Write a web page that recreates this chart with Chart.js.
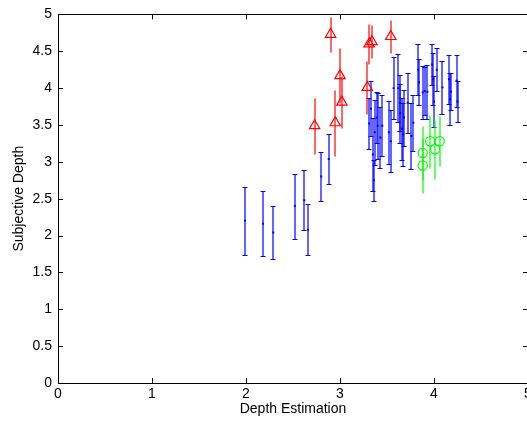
<!DOCTYPE html>
<html lang="en">
<head>
  <meta charset="UTF-8" />
  <title>Subjective Depth vs Depth Estimation</title>
  <script src="https://cdn.jsdelivr.net/npm/chart.js@4"></script>
  <style>
    html, body { margin: 0; padding: 0; background: #fff; overflow: hidden; }
    #wrap { width: 545px; height: 421px; }
  </style>
</head>
<body>
  <div id="wrap"><canvas id="depth-chart" width="545" height="421"></canvas></div>
  <script>
    // tick values
    const xTicks = [0, 1, 2, 3, 4, 5];
    const yTicks = [0, 0.5, 1, 1.5, 2, 2.5, 3, 3.5, 4, 4.5, 5];

    // blue dots with capped error bars
    const blueX = [1.99, 2.18, 2.29, 2.52, 2.62, 2.66, 2.80, 2.88,
      3.31, 3.33, 3.35, 3.36, 3.37, 3.39, 3.40, 3.43, 3.45, 3.52,
      3.54, 3.57, 3.62, 3.64, 3.64, 3.66, 3.67, 3.68, 3.72, 3.76,
      3.78, 3.83, 3.84, 3.88, 3.90, 3.93, 3.98, 3.99, 4.00, 4.03,
      4.09, 4.16, 4.17, 4.18, 4.24, 4.25];
    const blueY = [2.20, 2.16, 2.04, 2.40, 2.48, 2.08, 2.80, 3.04,
      3.52, 3.72, 3.10, 2.75, 3.40, 3.60, 3.49, 3.33, 3.49, 3.40,
      3.28, 4.00, 4.00, 3.80, 3.66, 3.45, 3.37, 3.60, 3.80, 3.35,
      3.53, 4.25, 4.08, 3.94, 3.96, 3.95, 4.32, 4.12, 3.82, 4.25,
      4.01, 4.12, 3.85, 3.95, 4.10, 3.82];
    const blueErr = [0.46, 0.44, 0.36, 0.44, 0.41, 0.35, 0.33, 0.34,
      0.35, 0.37, 0.50, 0.28, 0.44, 0.35, 0.45, 0.41, 0.41, 0.43,
      0.42, 0.42, 0.46, 0.38, 0.40, 0.42, 0.43, 0.38, 0.41, 0.45,
      0.38, 0.35, 0.31, 0.36, 0.32, 0.37, 0.28, 0.35, 0.35, 0.29,
      0.36, 0.33, 0.35, 0.25, 0.35, 0.28];

    // red triangles
    const redX = [2.73, 2.90, 2.95, 3.00, 3.02, 3.29, 3.31, 3.34, 3.54];
    const redY = [3.49, 4.73, 3.53, 4.17, 3.81, 4.01, 4.60, 4.63, 4.70];
    const redErr = [0.38, 0.24, 0.45, 0.37, 0.35, 0.36, 0.27, 0.22, 0.23];

    // green circles
    const greenX = [3.88, 3.88, 3.96, 4.01, 4.06];
    const greenY = [3.12, 2.95, 3.28, 3.17, 3.28];
    const greenErr = [0.37, 0.37, 0.36, 0.40, 0.34];

    const FONT = "'Liberation Sans', Arial, sans-serif";
    const toPoints = (xs, ys) => xs.map((x, i) => ({ x, y: ys[i] }));

    // vertical error bars, drawn under the markers
    const errorBars = {
      id: 'errorBars',
      beforeDatasetsDraw(chart) {
        const { ctx, scales: { x, y } } = chart;
        const sets = chart.data.datasets.slice().reverse();
        sets.forEach(ds => {
          ctx.save();
          ctx.strokeStyle = ds.barColor;
          ctx.lineWidth = 1.2;
          ds.data.forEach((p, j) => {
            const px = Math.round(x.getPixelForValue(p.x));
            const top = Math.round(y.getPixelForValue(p.y + ds.errors[j])) + 0.5;
            const bot = Math.round(y.getPixelForValue(p.y - ds.errors[j])) + 0.5;
            ctx.beginPath();
            ctx.moveTo(px, top);
            ctx.lineTo(px, bot);
            if (ds.cap) {
              ctx.moveTo(px - ds.cap, top);
              ctx.lineTo(px + ds.cap, top);
              ctx.moveTo(px - ds.cap, bot);
              ctx.lineTo(px + ds.cap, bot);
            }
            ctx.stroke();
          });
          ctx.restore();
        });
      }
    };

    // box round the axes with inward ticks on all sides
    const axesBox = {
      id: 'axesBox',
      afterDraw(chart) {
        const { ctx, chartArea: a, scales: { x, y } } = chart;
        const t = 5;
        ctx.save();
        ctx.strokeStyle = '#000';
        ctx.lineWidth = 1;
        ctx.beginPath();
        xTicks.forEach(v => {
          const px = Math.round(x.getPixelForValue(v)) + 0.5;
          ctx.moveTo(px, a.bottom); ctx.lineTo(px, a.bottom - t);
          ctx.moveTo(px, a.top); ctx.lineTo(px, a.top + t);
        });
        yTicks.forEach(v => {
          const py = Math.round(y.getPixelForValue(v)) + 0.5;
          ctx.moveTo(a.left, py); ctx.lineTo(a.left + t, py);
          ctx.moveTo(a.right, py); ctx.lineTo(a.right - t, py);
        });
        ctx.stroke();
        ctx.strokeRect(Math.round(a.left) + 0.5, Math.round(a.top) + 0.5,
          Math.round(a.right - a.left), Math.round(a.bottom - a.top));
        ctx.restore();
      }
    };

    new Chart(document.getElementById('depth-chart'), {
      type: 'scatter',
      data: {
        datasets: [
          {
            label: 'green',
            data: toPoints(greenX, greenY),
            errors: greenErr,
            barColor: '#00ff00',
            cap: 0,
            pointStyle: 'circle',
            pointRadius: 4.6,
            pointHoverRadius: 4.6,
            borderColor: '#00ff00',
            backgroundColor: 'rgba(0,0,0,0)',
            borderWidth: 1.2
          },
          {
            label: 'red',
            data: toPoints(redX, redY),
            errors: redErr,
            barColor: '#ff0000',
            cap: 0,
            pointStyle: 'triangle',
            pointRadius: 6,
            pointHoverRadius: 6,
            borderColor: '#ff0000',
            backgroundColor: 'rgba(0,0,0,0)',
            borderWidth: 1.2
          },
          {
            label: 'blue',
            data: toPoints(blueX, blueY),
            errors: blueErr,
            barColor: '#0000ff',
            cap: 2.5,
            pointStyle: 'rect',
            pointRadius: 1.4,
            pointHoverRadius: 1.4,
            borderColor: '#0000ff',
            backgroundColor: '#0000ff',
            borderWidth: 0
          }
        ]
      },
      options: {
        responsive: false,
        animation: false,
        events: [],
        layout: { padding: { top: 13, right: 17, left: 0, bottom: 0 } },
        plugins: { legend: { display: false }, tooltip: { enabled: false } },
        scales: {
          x: {
            type: 'linear',
            min: 0,
            max: 5,
            afterBuildTicks: s => { s.ticks = xTicks.map(v => ({ value: v })); },
            afterFit: s => { s.height = 38; },
            grid: { display: false, drawTicks: false },
            border: { display: false },
            ticks: {
              color: '#000',
              padding: 3,
              maxRotation: 0,
              font: { family: FONT, size: 14 },
              callback: v => String(v)
            },
            title: {
              display: true,
              text: 'Depth Estimation',
              color: '#000',
              font: { family: FONT, size: 14 },
              padding: { top: 0, bottom: 3 }
            }
          },
          y: {
            type: 'linear',
            min: 0,
            max: 5,
            afterBuildTicks: s => { s.ticks = yTicks.map(v => ({ value: v })); },
            afterFit: s => { s.width = 58; },
            grid: { display: false, drawTicks: false },
            border: { display: false },
            ticks: {
              color: '#000',
              padding: 6,
              font: { family: FONT, size: 14 },
              callback: v => String(v)
            },
            title: {
              display: true,
              text: 'Subjective Depth',
              color: '#000',
              font: { family: FONT, size: 14 },
              padding: { top: 11, bottom: 0 }
            }
          }
        }
      },
      plugins: [errorBars, axesBox]
    });
  </script>
</body>
</html>
